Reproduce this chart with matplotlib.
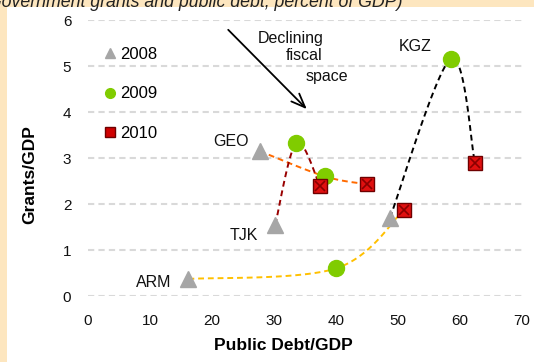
import numpy as np
import matplotlib
matplotlib.use("Agg")
import matplotlib.pyplot as plt
from matplotlib.lines import Line2D
from matplotlib.patches import Rectangle

plt.rcParams["font.family"] = ["Liberation Sans", "DejaVu Sans"]

# Public debt (% of GDP) and grants (% of GDP) by country and year
countries = ["ARM", "GEO", "KGZ", "TJK"]
debt_2008 = [16.2, 27.7, 48.7, 30.2]
grants_2008 = [0.37, 3.15, 1.70, 1.55]
debt_2009 = [40.0, 38.2, 58.5, 33.6]
grants_2009 = [0.60, 2.60, 5.15, 3.33]
debt_2010 = [51.0, 45.0, 62.4, 37.4]
grants_2010 = [1.88, 2.43, 2.90, 2.40]
line_colors = ["#FFC000", "#FF6A00", "#000000", "#990000"]

years = ["2008", "2009", "2010"]
x_ticks = [0, 10, 20, 30, 40, 50, 60, 70]
y_ticks = [0, 1, 2, 3, 4, 5, 6]

W, H = 534, 362
fig = plt.figure(figsize=(W / 100, H / 100), dpi=100)
fig.patch.set_facecolor("#FDE6BF")
panel = Rectangle((7 / W, 0), 1, 1 - 7 / H, transform=fig.transFigure,
                  facecolor="white", edgecolor="none", zorder=-10)
fig.patches.append(panel)

fig.text(402 / W, 1 - 7 / H, "(Government grants and public debt, percent of GDP)",
         ha="right", va="baseline", fontsize=12.8, style="italic", color="#222222")

ax = fig.add_axes([88 / W, 66 / H, 434 / W, 276 / H])
ax.set_facecolor("none")
ax.set_xlim(0, 70)
ax.set_ylim(0, 6)
ax.set_xticks(x_ticks)
ax.set_yticks(y_ticks)
for s in ax.spines.values():
    s.set_visible(False)
ax.tick_params(length=0, labelsize=11, pad=12, colors="#111111")
ax.tick_params(axis="x", pad=13)
ax.yaxis.grid(True, color="#D9D9D9", lw=1.5, linestyle=(0, (3, 2)))
ax.set_axisbelow(True)
ax.set_xlabel("Public Debt/GDP", fontsize=12.5, fontweight="bold")
ax.set_ylabel("Grants/GDP", fontsize=12.5, fontweight="bold")
ax.xaxis.set_label_coords((283 - 88) / 434, (296 - 345) / 276)
ax.yaxis.set_label_coords((30 - 88) / 434, (296 - 175) / 276)
ax.xaxis.label.set_va("center")
ax.yaxis.label.set_va("center")


def smooth_curve(xs, ys, n=40):
    """Bezier smoothing through points, computed in screen space."""
    pts = ax.transData.transform(np.column_stack([xs, ys]))
    P = np.vstack([pts[0], pts, pts[-1]])
    segs = []
    t = np.linspace(0, 1, n)[:, None]
    for i in range(1, len(P) - 2):
        p0, p1, p2, p3 = P[i - 1], P[i], P[i + 1], P[i + 2]
        c1 = p1 + (p2 - p0) / 6
        c2 = p2 - (p3 - p1) / 6
        segs.append((1 - t) ** 3 * p1 + 3 * (1 - t) ** 2 * t * c1
                    + 3 * (1 - t) * t ** 2 * c2 + t ** 3 * p2)
    return ax.transData.inverted().transform(np.vstack(segs))


for i, c in enumerate(countries):
    xs = [debt_2008[i], debt_2009[i], debt_2010[i]]
    ys = [grants_2008[i], grants_2009[i], grants_2010[i]]
    cur = smooth_curve(xs, ys)
    ax.plot(cur[:, 0], cur[:, 1], color=line_colors[i], lw=1.4,
            linestyle=(0, (3, 2)), zorder=2)

ax.plot(debt_2008, grants_2008, linestyle="none", marker="^", ms=11,
        color="#A6A6A6", mec="#A6A6A6", zorder=3)
ax.plot(debt_2009, grants_2009, linestyle="none", marker="o", ms=11.5,
        color="#80CC00", mec="#80CC00", zorder=3)
ax.plot(debt_2010, grants_2010, linestyle="none", marker="s", ms=10,
        color="#E01010", mec="#6E0000", mew=1.0, zorder=4)
ax.plot(debt_2010, grants_2010, linestyle="none", marker="x", ms=7,
        color="#8A0000", mew=1.2, zorder=5)

# Country labels
label_pos = {"ARM": (13.4, 0.30, "right"), "GEO": (26.0, 3.36, "right"),
             "KGZ": (52.8, 5.43, "center"), "TJK": (27.5, 1.31, "right")}
for c in countries:
    x, y, ha = label_pos[c]
    ax.text(x, y, c, ha=ha, va="center", fontsize=11.5, color="#111111")

# Arrow and caption
ax.annotate("", xy=(35.6, 4.02), xytext=(22.3, 5.83),
            arrowprops=dict(arrowstyle="->,head_length=1.0,head_width=0.4",
                            color="black", lw=1.3))
ax.text(32.7, 5.6, "Declining", ha="center", va="center", fontsize=11.5, color="#111111")
ax.text(34.8, 5.23, "fiscal", ha="center", va="center", fontsize=11.5, color="#111111")
ax.text(38.5, 4.78, "space", ha="center", va="center", fontsize=11.5, color="#111111")

handles = [
    Line2D([], [], linestyle="none", marker="^", ms=7, color="#A6A6A6"),
    Line2D([], [], linestyle="none", marker="o", ms=7, color="#80CC00"),
    Line2D([], [], linestyle="none", marker="s", ms=7, color="#D00000", mec="#6E0000"),
]
ax.legend(handles, years, loc="upper left",
          bbox_to_anchor=((104 - 88) / 434, (296 - 47) / 276),
          frameon=False, fontsize=12, labelspacing=1.47, handlelength=0.7,
          handletextpad=0.25, borderpad=0, borderaxespad=0)

fig.savefig("out.png", dpi=100, facecolor=fig.get_facecolor())
